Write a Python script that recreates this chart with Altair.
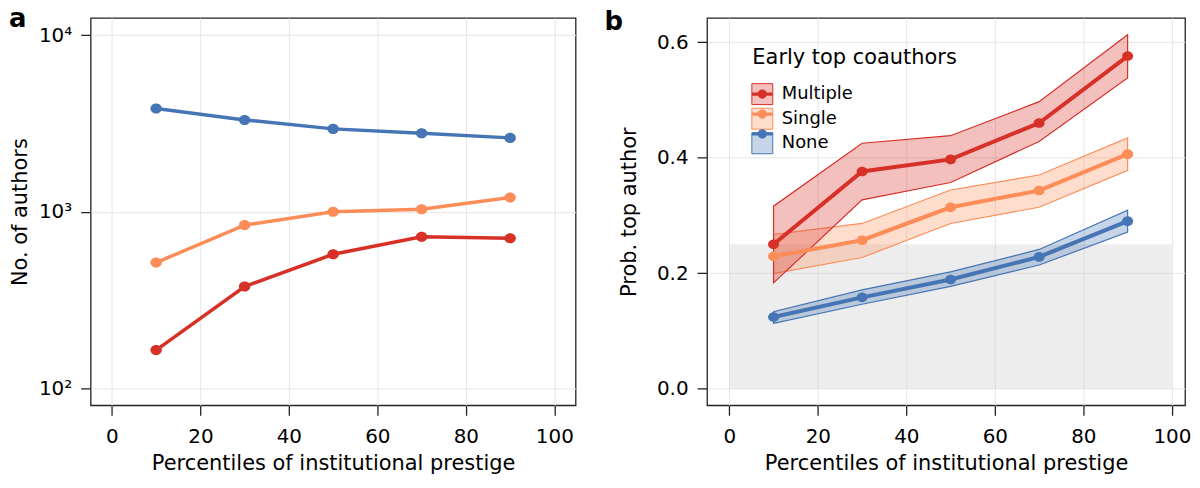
import altair as alt
import pandas as pd

FONT = "DejaVu Sans"

# ---------------- data ----------------
pct = [10, 30, 50, 70, 90]
series_names = ["Multiple", "Single", "None"]
series_colors = ["#d73027", "#fc8d59", "#4575b4"]
band_fills = ["rgba(215,48,39,0.3)", "rgba(252,141,89,0.3)", "rgba(69,117,180,0.3)"]

# panel a: number of authors (log scale)
authors_multiple = [165, 378, 575, 723, 708]
authors_single = [516, 841, 1000, 1035, 1205]
authors_none = [3846, 3311, 2946, 2786, 2620]

# panel b: probability of becoming a top author, with confidence band
prob_multiple = [0.250, 0.376, 0.397, 0.460, 0.576]
prob_multiple_lo = [0.183, 0.327, 0.357, 0.428, 0.538]
prob_multiple_hi = [0.316, 0.425, 0.438, 0.497, 0.613]
prob_single = [0.229, 0.257, 0.314, 0.343, 0.406]
prob_single_lo = [0.199, 0.227, 0.286, 0.314, 0.378]
prob_single_hi = [0.267, 0.286, 0.344, 0.370, 0.434]
prob_none = [0.124, 0.158, 0.189, 0.228, 0.290]
prob_none_lo = [0.113, 0.146, 0.177, 0.214, 0.271]
prob_none_hi = [0.133, 0.171, 0.202, 0.241, 0.309]

# shaded baseline region
base_x = [0]
base_x2 = [100]
base_y = [0.0]
base_y2 = [0.25]

x_ticks = [0, 20, 40, 60, 80, 100]
ya_ticks = [100, 1000, 10000]
yb_ticks = [0.0, 0.2, 0.4, 0.6]

# ---------------- tables ----------------
rows_a = []
for name, vals in zip(series_names, [authors_multiple, authors_single, authors_none]):
    for p, v in zip(pct, vals):
        rows_a.append({"pct": p, "n": v, "series": name})
df_a = pd.DataFrame(rows_a)

rows_b = []
b_sets = {
    "Multiple": (prob_multiple, prob_multiple_lo, prob_multiple_hi),
    "Single": (prob_single, prob_single_lo, prob_single_hi),
    "None": (prob_none, prob_none_lo, prob_none_hi),
}
for name in ["None", "Single", "Multiple"]:  # draw order: red on top
    mid, lo, hi = b_sets[name]
    for p, m, l, h in zip(pct, mid, lo, hi):
        rows_b.append({"pct": p, "mid": m, "lo": l, "hi": h, "series": name})
df_b = pd.DataFrame(rows_b)

df_base = pd.DataFrame({"x": base_x, "x2": base_x2, "y": base_y, "y2": base_y2})

# slightly wide dot, like the reference's
DOT = "M1,0A1,0.88,0,1,1,-1,0A1,0.88,0,1,1,1,0Z"

# ---------------- axes ----------------
def x_axis():
    return alt.Axis(values=x_ticks, title="Percentiles of institutional prestige",
                    tickSize=10, labelPadding=11, titlePadding=6, domain=False,
                    grid=True, gridColor="#e6e6e6", gridWidth=1,
                    tickColor="#222222", tickWidth=1.3,
                    labelFontSize=20, titleFontSize=21, labelFont=FONT, titleFont=FONT,
                    labelColor="black", titleColor="black", titleFontWeight="normal",
                    labelFlush=False, labelOverlap=False)

def y_axis(title, values, title_pad, label_expr=None, fmt=None):
    kw = dict(values=values, title=title, tickSize=10, labelPadding=9, titlePadding=title_pad,
              domain=False, grid=True, gridColor="#e6e6e6", gridWidth=1,
              tickColor="#222222", tickWidth=1.3,
              labelFontSize=20, titleFontSize=21, labelFont=FONT, titleFont=FONT,
              labelColor="black", titleColor="black", titleFontWeight="normal",
              labelFlush=False, labelOverlap=False)
    if label_expr is not None:
        kw["labelExpr"] = label_expr
    if fmt is not None:
        kw["format"] = fmt
    return alt.Axis(**kw)

W_A, W_B, H = 487, 480, 389

def panel_title(letter, dx, offset):
    return alt.TitleParams(letter, anchor="start", frame="group", fontSize=26, fontWeight="bold",
                           font=FONT, color="black", offset=offset, baseline="alphabetic", dx=dx)

# ---------------- panel a ----------------
xa = alt.X("pct:Q", scale=alt.Scale(domain=[-4.8, 104.8], nice=False, zero=False), axis=x_axis())
ya = alt.Y("n:Q", scale=alt.Scale(type="log", domain=[10 ** 1.905, 10 ** 4.097], nice=False),
           axis=y_axis("No. of authors", ya_ticks, 8,
                       label_expr="datum.value == 100 ? '10²' : datum.value == 1000 ? '10³' : '10⁴'"))
col_a = alt.Color("series:N", scale=alt.Scale(domain=series_names, range=series_colors), legend=None)

lines_a = alt.Chart(df_a).mark_line(strokeWidth=3.5).encode(x=xa, y=ya, color=col_a, detail="series:N")
points_a = alt.Chart(df_a).mark_point(filled=True, size=132, opacity=1, shape=DOT).encode(
    x=xa, y=ya, color=col_a)

panel_a = alt.layer(lines_a, points_a).properties(width=W_A, height=H,
                                                  title=panel_title("a", -82, -35))

# ---------------- panel b ----------------
xb_scale = alt.Scale(domain=[-5.03, 102.97], nice=False, zero=False)
yb_scale = alt.Scale(domain=[-0.029, 0.642], nice=False, zero=False)

base = alt.Chart(df_base).mark_rect(fill="#d2d2d2", opacity=0.4).encode(
    x=alt.X("x:Q", scale=xb_scale, axis=x_axis()),
    x2="x2:Q",
    y=alt.Y("y:Q", scale=yb_scale, axis=y_axis("Prob. top author", yb_ticks, 17, fmt=".1f")),
    y2="y2:Q",
)

legend_common = dict(
    title="Early top coauthors", orient="none", legendX=45.5, legendY=29.5, padding=0,
    titleFontSize=21, titleFont=FONT, titleFontWeight="normal", titleColor="black",
    titlePadding=15, titleLimit=400, labelFontSize=18, labelFont=FONT, labelColor="black",
    labelLimit=300, labelOffset=8.5, rowPadding=-1.3, symbolOffset=-1,
)
band_legend = alt.Legend(symbolType="square", symbolSize=441, symbolStrokeWidth=1, **legend_common)

bands = alt.Chart(df_b).mark_area(strokeWidth=1.2, strokeOpacity=1).encode(
    x=alt.X("pct:Q", scale=xb_scale),
    y=alt.Y("lo:Q", scale=yb_scale, stack=None),
    y2="hi:Q",
    fill=alt.Fill("series:N", scale=alt.Scale(domain=series_names, range=band_fills), legend=band_legend),
    stroke=alt.Stroke("series:N", scale=alt.Scale(domain=series_names, range=series_colors), legend=band_legend),
    detail="series:N",
)

lines_b = alt.Chart(df_b).mark_line(strokeWidth=4).encode(
    x=alt.X("pct:Q", scale=xb_scale),
    y=alt.Y("mid:Q", scale=yb_scale),
    stroke=alt.Stroke("series:N", scale=alt.Scale(domain=series_names, range=series_colors), legend=None),
    detail="series:N",
)

legend_pts = dict(legend_common)
legend_pts.update(titleOpacity=0, labelOpacity=0)
# legend glyph: a short thick bar with a dot in its middle (both filled)
LINE_DOT = ("M-0.95,-0.15H0.95V0.15H-0.95Z"
            "M0.42,0A0.42,0.42,0,1,1,-0.42,0A0.42,0.42,0,1,1,0.42,0Z")
points_b = alt.Chart(df_b).mark_point(filled=True, size=121, opacity=1, shape=DOT).encode(
    x=alt.X("pct:Q", scale=xb_scale),
    y=alt.Y("mid:Q", scale=yb_scale),
    color=alt.Color("series:N", sort=series_names, scale=alt.Scale(range=series_colors),
                    legend=alt.Legend(symbolType=LINE_DOT, symbolSize=484, symbolStrokeWidth=0,
                                      symbolOpacity=1, **legend_pts)),
)

panel_b = alt.layer(base, bands, lines_b, points_b).properties(
    width=W_B, height=H, title=panel_title("b", -103, -38))

chart = (
    alt.hconcat(panel_a, panel_b, spacing=27)
    .resolve_scale(color="independent", fill="independent", stroke="independent")
    .resolve_legend(color="independent", fill="independent", stroke="independent")
    .properties(padding={"left": 0, "top": -4, "right": 0, "bottom": 0}, background="white")
    .configure_view(stroke="#222222", strokeWidth=1.3)
)

chart.save("out.html", embed_options={"renderer": "svg", "actions": False})
